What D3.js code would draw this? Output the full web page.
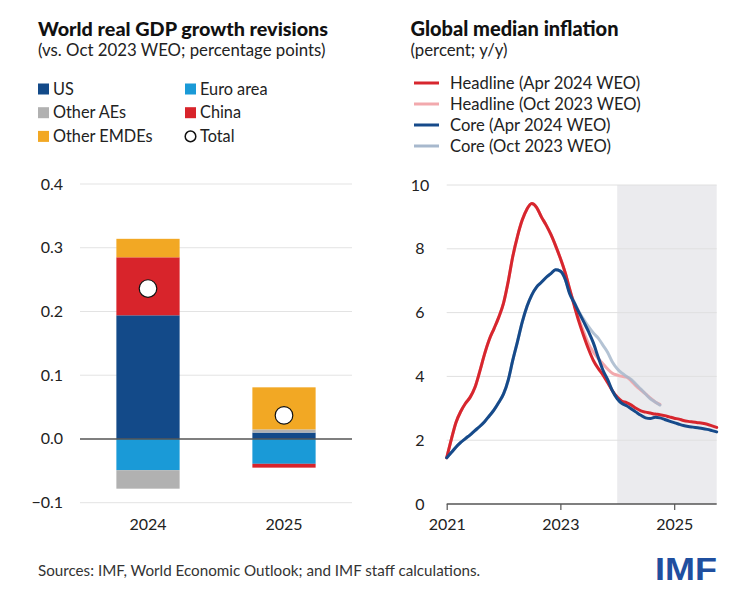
<!DOCTYPE html>
<html><head><meta charset="utf-8">
<script src="https://cdn.jsdelivr.net/npm/d3@7"></script>
<style>
body{margin:0;background:#fff;}
svg{display:block;font-family:Lato,"Noto Sans",sans-serif;}
</style></head>
<body><svg id="c" width="756" height="601"></svg>
<script>
// ---------- Data: left panel ----------
const years = ["2024", "2025"];
const groups = ["US", "Euro area", "Other AEs", "China", "Other EMDEs"];
const usVals = [0.194, 0.010];
const euroVals = [-0.049, -0.039];
const otherAEVals = [-0.029, 0.005];
const chinaVals = [0.091, -0.006];
const emdeVals = [0.029, 0.066];
const totalVals = [0.236, 0.037];
const leftTicks = [-0.1, 0.0, 0.1, 0.2, 0.3, 0.4];

// ---------- Data: right panel (monthly, Jan 2021 - Oct 2025) ----------
const startMonth = "2021-01";
const headlineApr24 = [1.45,2.05,2.55,2.9,3.15,3.35,3.65,4.15,4.7,5.15,5.5,5.85,6.3,7.0,7.75,8.4,8.9,9.25,9.42,9.3,9.0,8.75,8.45,8.1,7.7,7.25,6.75,6.2,5.7,5.25,4.85,4.5,4.25,4.05,3.8,3.55,3.35,3.22,3.18,3.1,3.0,2.92,2.88,2.85,2.82,2.8,2.77,2.73,2.69,2.66,2.62,2.59,2.57,2.55,2.53,2.5,2.45,2.4];
const headlineOct23 = [1.45,2.05,2.55,2.9,3.15,3.35,3.65,4.15,4.7,5.15,5.5,5.85,6.3,7.0,7.75,8.4,8.9,9.25,9.42,9.3,9.0,8.75,8.45,8.1,7.7,7.25,6.75,6.25,5.78,5.38,5.02,4.76,4.56,4.4,4.23,4.1,4.04,4.0,3.98,3.85,3.7,3.57,3.45,3.32,3.2,3.12];
const coreApr24 = [1.45,1.62,1.78,1.93,2.05,2.17,2.3,2.43,2.58,2.76,2.95,3.18,3.45,3.9,4.5,5.1,5.7,6.2,6.55,6.8,6.95,7.1,7.22,7.34,7.3,7.05,6.6,6.3,6.0,5.7,5.4,5.05,4.6,4.2,3.9,3.55,3.3,3.15,3.08,2.98,2.88,2.78,2.7,2.68,2.72,2.7,2.65,2.6,2.55,2.5,2.46,2.43,2.41,2.39,2.37,2.34,2.3,2.26];
const coreOct23 = [1.45,1.62,1.78,1.93,2.05,2.17,2.3,2.43,2.58,2.76,2.95,3.18,3.45,3.9,4.5,5.1,5.7,6.2,6.55,6.8,6.95,7.1,7.22,7.34,7.3,7.05,6.65,6.32,6.02,5.78,5.56,5.36,5.2,4.98,4.75,4.45,4.24,4.1,4.0,3.9,3.75,3.6,3.45,3.3,3.2,3.1];
const rightTicks = [0, 2, 4, 6, 8, 10];
const xTickYears = ["2021", "2023", "2025"];
const forecastStart = "2024-01";
const endMonth = "2025-10";

const lineSeries = [
  {name:"Headline (Apr 2024 WEO)", values: headlineApr24, color:"#d7262e"},
  {name:"Headline (Oct 2023 WEO)", values: headlineOct23, color:"#f2a9ad"},
  {name:"Core (Apr 2024 WEO)", values: coreApr24, color:"#164a8a"},
  {name:"Core (Oct 2023 WEO)", values: coreOct23, color:"#a7b8cd"}
];
const barColors = {"US":"#134a89","Euro area":"#1a9ad7","Other AEs":"#b1b1b1","China":"#d8242b","Other EMDEs":"#f2a824"};

const svg = d3.select("#c");
const parseM = d3.timeParse("%Y-%m");
const txt = "#222";

// ---------- Titles ----------
svg.append("text").attr("x",38).attr("y",36).attr("font-size",19.8).attr("font-weight",900).attr("fill","#111").text("World real GDP growth revisions");
svg.append("text").attr("x",38).attr("y",56).attr("font-size",16.8).attr("fill",txt).text("(vs. Oct 2023 WEO; percentage points)");
svg.append("text").attr("x",410.5).attr("y",36).attr("font-size",20).attr("font-weight",900).attr("fill","#111").text("Global median inflation");
svg.append("text").attr("x",410.5).attr("y",56).attr("font-size",16.8).attr("fill",txt).text("(percent; y/y)");

// ---------- Left legend ----------
const legItems = [
  {n:"US",c:0,r:0},{n:"Euro area",c:1,r:0},{n:"Other AEs",c:0,r:1},{n:"China",c:1,r:1},{n:"Other EMDEs",c:0,r:2},{n:"Total",c:1,r:2}
];
legItems.forEach(d=>{
  const x0 = d.c===0 ? 38 : 185, yc = 89 + d.r*23.7;
  if(d.n==="Total"){
    svg.append("circle").attr("cx",x0+5.5).attr("cy",yc).attr("r",5.3).attr("fill","#fff").attr("stroke","#111").attr("stroke-width",1.5);
  } else {
    svg.append("rect").attr("x",x0).attr("y",yc-5.5).attr("width",11).attr("height",11).attr("fill",barColors[d.n]);
  }
  svg.append("text").attr("x",x0+15).attr("y",yc+5.5).attr("font-size",16.3).attr("fill",txt).text(d.n);
});

// ---------- Left chart ----------
const yL = d3.scaleLinear().domain([-0.1,0.4]).range([502.7,184]);
const xL = d3.scaleBand().domain(years).range([80,352]).paddingInner(0.535).paddingOuter(0.2675);
const gL = svg.append("g");
gL.selectAll("line.grid").data(leftTicks.filter(t=>t!==0)).join("line")
  .attr("x1",80).attr("x2",352).attr("y1",d=>yL(d)).attr("y2",d=>yL(d)).attr("stroke","#e3e3e3").attr("stroke-width",1);
gL.selectAll("text.yt").data(leftTicks).join("text")
  .attr("x",63).attr("y",d=>yL(d)+5.5).attr("text-anchor","end").attr("font-size",16).attr("fill",txt)
  .text(d=>d3.format(".1f")(d));
const table = years.map((y,i)=>({year:y,"US":usVals[i],"Euro area":euroVals[i],"Other AEs":otherAEVals[i],"China":chinaVals[i],"Other EMDEs":emdeVals[i]}));
const stack = d3.stack().keys(groups).offset(d3.stackOffsetDiverging)(table);
stack.forEach(layer=>{
  gL.selectAll(null).data(layer).join("rect")
    .attr("x",d=>xL(d.data.year)).attr("width",xL.bandwidth())
    .attr("y",d=>yL(Math.max(d[0],d[1]))).attr("height",d=>Math.abs(yL(d[0])-yL(d[1])))
    .attr("fill",barColors[layer.key]);
});
gL.append("line").attr("x1",80).attr("x2",352).attr("y1",yL(0)).attr("y2",yL(0)).attr("stroke","#555").attr("stroke-width",1.5);
gL.selectAll("circle.tot").data(totalVals).join("circle")
  .attr("cx",(d,i)=>xL(years[i])+xL.bandwidth()/2).attr("cy",d=>yL(d)).attr("r",8.8)
  .attr("fill","#fff").attr("stroke","#111").attr("stroke-width",1.2);
gL.selectAll("text.xt").data(years).join("text")
  .attr("x",d=>xL(d)+xL.bandwidth()/2).attr("y",530).attr("text-anchor","middle").attr("font-size",16).attr("fill",txt).text(d=>d);

// ---------- Right legend ----------
lineSeries.forEach((s,i)=>{
  const yc = 83 + i*21;
  svg.append("line").attr("x1",414).attr("x2",439).attr("y1",yc).attr("y2",yc).attr("stroke",s.color).attr("stroke-width",3);
  svg.append("text").attr("x",450).attr("y",yc+5.5).attr("font-size",16.6).attr("fill",txt).text(s.name);
});

// ---------- Right chart ----------
const xR = d3.scaleTime().domain([parseM(startMonth), parseM(endMonth)]).range([446.7,716.7]);
const yR = d3.scaleLinear().domain([0,10]).range([504,185]);
const gR = svg.append("g");
gR.append("rect").attr("x",xR(parseM(forecastStart))).attr("y",yR(10)).attr("width",xR(parseM(endMonth))-xR(parseM(forecastStart))).attr("height",yR(0)-yR(10)).attr("fill","#ebebee");
gR.selectAll("line.grid").data(rightTicks.filter(t=>t!==0)).join("line")
  .attr("x1",446.7).attr("x2",716.7).attr("y1",d=>yR(d)).attr("y2",d=>yR(d)).attr("stroke","#e0e0e0").attr("stroke-width",1);
gR.selectAll("text.yt").data(rightTicks).join("text")
  .attr("x",420).attr("y",d=>yR(d)+5.5).attr("text-anchor","middle").attr("font-size",16).attr("fill",txt).text(d=>d);
const t0 = parseM(startMonth);
const line = d3.line().x((d,i)=>xR(d3.timeMonth.offset(t0,i))).y(d=>yR(d)).curve(d3.curveMonotoneX);
const drawOrder = [1,3,0,2];
drawOrder.forEach(k=>{
  const s = lineSeries[k];
  gR.append("path").attr("d",line(s.values)).attr("fill","none").attr("stroke",s.color)
    .attr("stroke-width",3).attr("stroke-linejoin","round").attr("stroke-linecap","round")
    .attr("opacity", k===3 ? 0.85 : 1);
});
const xAxis = d3.axisBottom(xR).tickValues(xTickYears.map(y=>d3.timeParse("%Y")(y))).tickSize(6).tickFormat(d3.timeFormat("%Y"));
const ax = gR.append("g").attr("transform","translate(0,504)").call(xAxis);
ax.select(".domain").attr("stroke","#555").attr("stroke-width",1.5).attr("d","M446.7,0H716.7");
ax.selectAll(".tick line").attr("stroke","#555").attr("stroke-width",1.2);
ax.selectAll(".tick text").attr("font-size",16).attr("font-family","Lato").attr("fill",txt).attr("dy",0).attr("y",26);

// ---------- Footer ----------
svg.append("text").attr("x",38).attr("y",576).attr("font-size",15.2).attr("fill","#333").text("Sources: IMF, World Economic Outlook; and IMF staff calculations.");
svg.append("text").attr("x",655).attr("y",580).attr("font-size",32).attr("font-weight",700).attr("font-family","Liberation Sans, Arial, sans-serif").attr("fill","#1f4f9f").attr("textLength",62).attr("lengthAdjust","spacingAndGlyphs").text("IMF");
</script></body></html>
